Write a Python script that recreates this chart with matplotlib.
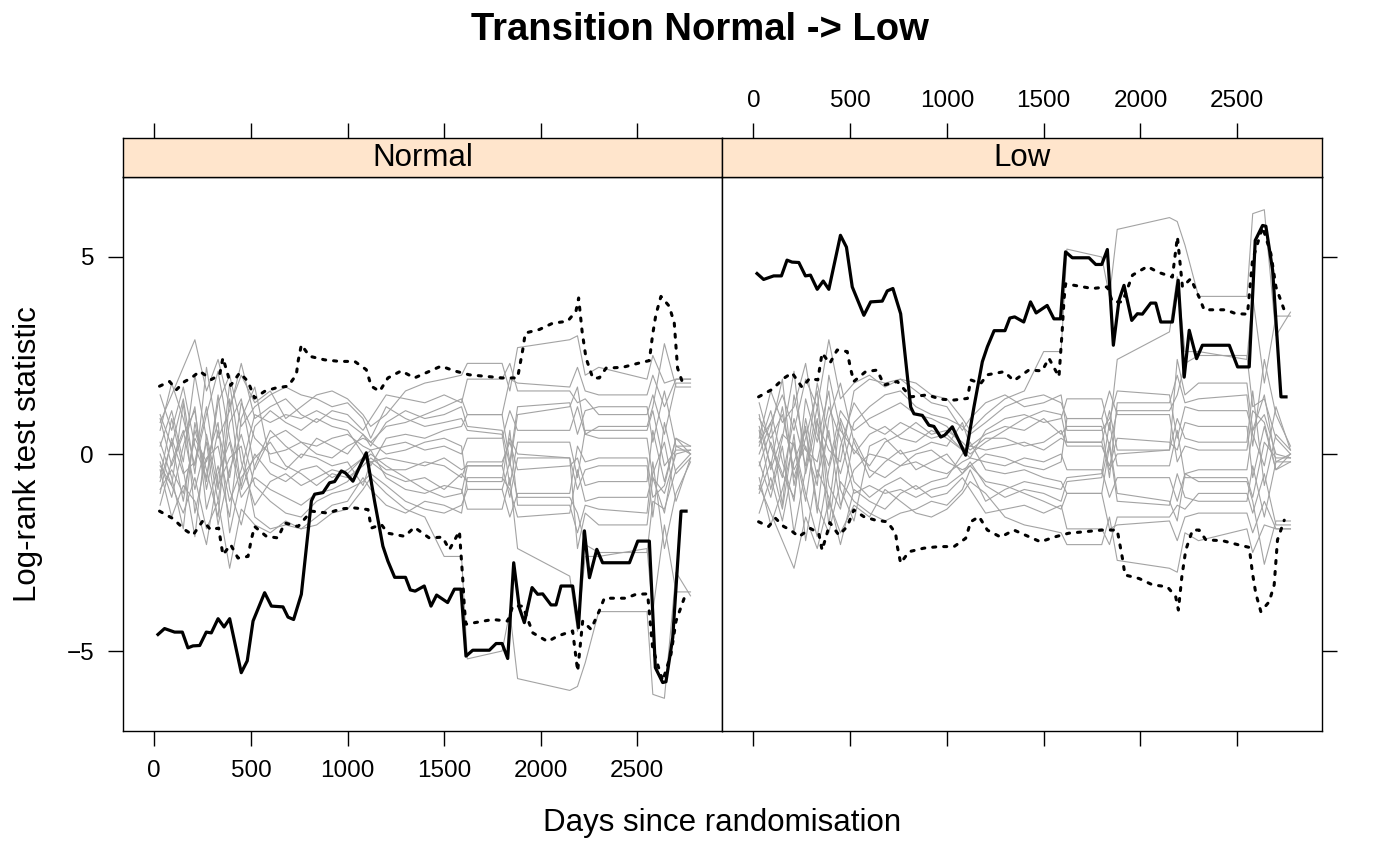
import numpy as np
import matplotlib.pyplot as plt

plt.rcParams['font.family'] = ['Liberation Sans', 'DejaVu Sans']

# Observed log-rank statistic, "Low" group (the "Normal" panel is its mirror image)
obs_days = [19, 53, 105, 145, 174, 200, 235, 269, 295, 330, 361, 390, 450, 481, 511,
            571, 606, 666, 692, 721, 761, 813, 830, 873, 907, 933, 968, 989, 1028, 1097,
            1140, 1183, 1209, 1244, 1300, 1325, 1350, 1397, 1432, 1461, 1518, 1553, 1587,
            1613, 1648, 1734, 1769, 1800, 1829, 1860, 1889, 1915, 1955, 1984, 2010, 2053,
            2079, 2105, 2165, 2195, 2226, 2252, 2290, 2320, 2459, 2502, 2562, 2593, 2631,
            2648, 2683, 2726, 2752]
obs_low = [4.58, 4.43, 4.52, 4.52, 4.92, 4.87, 4.86, 4.52, 4.54, 4.18, 4.39, 4.18, 5.55, 5.25, 4.24,
           3.52, 3.86, 3.88, 4.14, 4.20, 3.56, 1.19, 1.02, 0.98, 0.73, 0.70, 0.43, 0.48, 0.69, -0.03,
           1.20, 2.34, 2.72, 3.13, 3.13, 3.45, 3.48, 3.35, 3.86, 3.58, 3.77, 3.43, 3.43,
           5.13, 4.98, 4.98, 4.81, 4.81, 5.19, 2.76, 3.90, 4.28, 3.39, 3.56, 3.55, 3.83,
           3.83, 3.35, 3.35, 4.41, 1.95, 3.14, 2.42, 2.76, 2.76, 2.21, 2.21, 5.42, 5.80,
           5.78, 4.66, 1.45, 1.45]

# Upper / lower pointwise limits (dotted), "Low" group
up_days = [27, 97, 157, 200, 252, 291, 333, 355, 395, 433, 485, 502, 519, 580, 640, 675, 744,
           813, 899, 968, 1037, 1106, 1123, 1175, 1209, 1296, 1346, 1423, 1492, 1527, 1579, 1596,
           1605, 1613, 1751, 1829, 1855, 1907, 1959, 2036, 2088, 2165, 2191, 2217, 2260, 2303,
           2329, 2441, 2493, 2553, 2579, 2631, 2674, 2700, 2743]
up_low = [1.45, 1.64, 1.92, 2.06, 1.69, 1.92, 1.88, 2.56, 2.30, 2.64, 2.60, 2.17, 1.84, 2.09, 2.13, 1.75, 1.84,
          1.45, 1.50, 1.39, 1.37, 1.41, 1.88, 1.79, 2.01, 2.09, 1.86, 2.13, 2.11, 2.43, 1.96, 3.15,
          3.91, 4.32, 4.20, 4.24, 3.86, 3.86, 4.54, 4.76, 4.62, 4.49, 5.51, 4.24, 4.45, 3.98,
          3.66, 3.66, 3.56, 3.55, 4.92, 5.76, 5.08, 4.24, 3.65]

lo_days = [27, 79, 114, 157, 192, 235, 295, 338, 355, 381, 395, 442, 485, 519, 571, 631, 692, 735,
           744, 761, 804, 881, 959, 1037, 1097, 1123, 1166, 1209, 1278, 1346, 1406, 1484, 1553,
           1630, 1717, 1803, 1880, 1907, 1920, 1993, 2062, 2139, 2182, 2196, 2214, 2234, 2269,
           2303, 2338, 2424, 2510, 2562, 2579, 2596, 2622, 2665, 2691, 2708, 2743]
lo_low = [-1.72, -1.84, -1.63, -1.84, -1.93, -2.10, -1.89, -2.01, -2.44, -2.01, -1.74, -2.06, -1.84, -1.42,
          -1.59, -1.68, -1.72, -2.01, -2.35, -2.77, -2.48, -2.39, -2.35, -2.35, -2.14, -1.72, -1.59,
          -1.93, -2.11, -1.93, -2.06, -2.23, -2.11, -2.01, -1.97, -1.93, -1.93, -2.65, -3.07, -3.16,
          -3.32, -3.37, -3.62, -3.96, -3.11, -2.44, -1.93, -1.93, -2.18, -2.20, -2.31, -2.37, -3.03,
          -3.54, -4.00, -3.75, -3.32, -2.18, -1.68]

# Permuted paths (grey), "Low" group
perm_days = [30, 90, 150, 210, 270, 330, 390, 450, 520, 600, 680, 760, 840, 920, 1000, 1080,
             1120, 1200, 1300, 1400, 1500, 1590, 1620, 1800, 1840, 1880, 2150, 2190, 2230,
             2300, 2550, 2580, 2640, 2700, 2775]
perm_low = [
    [0.3, 0.8, 1.5, 0.6, 1.9, 1.2, 2.9, 1.4, 1.8, 2.0, 1.7, 1.9, 1.8, 1.5, 1.4, 0.9, 0.6, 1.0, 1.4, 1.6,
     2.6, 2.6, 5.2, 5.0, 4.0, 5.7, 6.0, 5.9, 5.3, 4.0, 4.0, 6.1, 6.2, 3.0, 3.6],
    [-0.8, -1.5, -2.2, -2.9, -1.6, -2.4, -1.2, -2.0, -1.3, -1.6, -0.9, -1.2, -1.5, -1.6, -1.4, -1.0, -0.7,
     -1.0, -1.6, -1.8, -1.9, -2.0, -2.3, -2.3, -1.6, -2.7, -2.9, -3.0, -2.0, -2.2, -1.9, -2.5, -1.8, -1.9, -1.9],
    [1.3, 0.2, -0.6, 0.9, -0.3, 1.8, 0.4, -0.5, 0.8, 1.2, 1.5, 1.6, 1.2, 1.0, 0.9, 0.7, 0.5, 0.8, 1.2, 1.4,
     1.5, 1.3, 0.9, 0.9, 0.2, 1.1, 1.1, 1.5, 2.3, 2.5, 2.5, 1.2, 1.4, 0.4, 0.0],
    [-0.3, 0.6, 1.9, -0.8, 0.7, -1.5, 0.9, 1.8, 0.3, -0.6, -0.2, 0.1, -0.4, -0.2, 0.0, -0.5, -0.2, -0.8,
     -1.1, -0.9, -1.0, -1.2, -0.7, -0.6, 0.3, -1.0, -1.2, -1.7, -0.5, -0.4, -0.4, 0.6, 1.0, 0.0, -0.1],
    [0.6, -0.9, 0.4, 2.1, -0.5, 0.9, -1.8, 0.2, 1.3, 0.7, 0.5, 0.8, 0.6, 0.4, 0.5, 0.1, 0.2, 0.5, 0.7, 0.6,
     0.9, 0.5, 0.7, 0.7, -0.6, 1.3, 1.3, 2.0, 1.3, 1.4, 1.5, 0.2, 2.4, 1.0, 0.2],
    [-1.0, -0.2, -1.4, 0.5, -2.2, -0.4, -1.1, -2.3, -0.9, -1.2, -1.4, -1.0, -0.8, -1.1, -1.0, -0.6, -0.9,
     -1.5, -1.4, -1.3, -1.5, -1.3, -1.9, -1.9, -2.3, -1.6, -1.6, -1.3, -1.4, -1.0, -1.0, -1.5, -0.5, -1.8, -1.8],
    [0.2, 1.1, -0.2, -1.2, 1.4, 0.3, 1.6, -0.9, -1.7, 0.2, 0.4, 0.0, 0.1, 0.3, 0.2, 0.8, 0.2, 0.1, 0.2, 0.3,
     0.1, 0.4, 0.3, 0.3, 1.1, 0.1, 0.1, 0.9, 0.4, 0.3, 0.3, 1.6, -0.8, 0.5, 0.1],
    [-0.6, -1.8, -0.9, 0.3, -1.0, -2.1, -0.4, 0.8, -0.7, -1.1, -0.8, -0.6, -0.9, -0.7, -0.6, 0.0, 0.3, -0.4,
     -0.5, -0.4, -0.6, -0.7, -1.0, -1.0, 0.2, -1.2, -1.3, -0.5, -1.1, -1.2, -1.2, -0.3, -1.6, -0.2, -0.2],
    [0.9, 0.4, 1.0, -0.4, 0.2, -0.8, 2.0, 0.6, 0.1, -0.3, 0.3, 0.5, 0.8, 0.5, 0.6, 0.3, 0.1, 0.4, 0.4, 0.2,
     0.3, 0.6, 0.2, 0.2, -0.3, 0.4, 0.3, 0.1, 0.8, 0.7, 0.7, -0.6, 0.7, -0.4, 0.0],
    [-1.5, -0.6, -1.7, -0.2, 0.6, -1.3, -2.0, -0.7, -1.2, -1.5, -1.7, -1.5, -1.4, -1.2, -1.3, -0.9, -0.4,
     -1.2, -0.9, -0.7, -0.8, -0.9, -0.6, -0.5, 0.8, -0.3, -0.3, 0.6, -0.6, -0.6, -0.6, -1.1, 0.3, -0.1, -0.1],
    [0.4, 1.6, 0.8, 1.2, 2.3, 0.5, -0.3, 1.1, 0.6, 0.9, 1.1, 1.3, 1.0, 0.9, 0.7, 0.2, 0.0, 0.3, 0.6, 0.9,
     1.1, 1.0, 0.3, 0.3, -0.4, 0.0, 0.1, 2.4, 1.5, 1.8, 1.8, 0.6, 1.5, -0.2, 0.0],
    [-0.2, -1.1, 0.2, -2.0, -0.4, 1.2, -0.8, -1.4, 0.4, -0.4, -0.6, -0.3, -0.2, -0.4, -0.5, -0.2, -0.1, -0.2,
     -0.3, -0.1, -0.2, 0.0, -0.4, -0.4, -1.1, -0.6, -0.6, -1.2, -0.5, -0.7, -0.7, -1.2, -2.8, -1.7, -1.7],
    [1.0, -0.4, 0.5, 0.2, -1.2, 0.8, 0.1, -0.2, 1.6, 1.9, 1.8, 1.9, 1.6, 1.3, 1.2, 0.6, 0.9, 1.3, 1.5, 1.2,
     1.3, 1.5, 0.6, 0.6, 0.9, 1.6, 1.5, 0.4, 1.2, 1.1, 1.1, 0.5, -0.3, 1.2, 0.1],
    [-0.9, 0.3, -0.5, -1.1, 0.9, -0.6, 0.6, -1.3, -0.4, 0.0, -0.1, -0.3, 0.0, 0.1, -0.2, -0.4, -0.3, 0.0,
     -0.1, -0.3, -0.4, -0.2, 0.9, 0.9, 1.6, 1.0, 1.0, -0.2, 0.2, 0.1, 0.1, 1.1, 0.8, -0.4, -0.2],
    [0.0, 0.8, -1.3, 1.5, 0.1, -0.2, 1.2, 0.4, -1.0, -0.8, -1.0, -0.9, -1.1, -0.9, -0.8, -0.5, -0.3, -0.7,
     -0.8, -1.0, -1.2, -1.4, -1.0, -1.0, -1.9, -1.8, -1.7, -2.2, -1.6, -1.5, -1.5, -2.0, -1.2, -1.9, -1.9],
    [0.7, -0.3, 1.2, -0.6, 0.4, 1.6, -1.4, 0.9, 0.0, 0.5, 0.7, 0.4, 0.3, 0.6, 0.4, 0.1, -0.1, 0.6, 0.9, 1.0,
     0.8, 0.9, 1.4, 1.4, 0.6, 2.4, 3.1, 4.5, 2.6, 2.6, 2.4, 4.0, 1.8, 3.5, 3.5],
]

panels = ['Normal', 'Low']
signs = [-1, 1]  # log-rank statistic of one group is minus the other's
x_ticks = [0, 500, 1000, 1500, 2000, 2500]
y_ticks = [-5, 0, 5]

W, H = 1400, 866


def box(x0, y0, x1, y1):
    return [x0 / W, 1 - y1 / H, (x1 - x0) / W, (y1 - y0) / H]


fig = plt.figure(figsize=(14, 8.66), dpi=100)

panel_px = [(123, 722), (722, 1322)]
for i, (name, s) in enumerate(zip(panels, signs)):
    x0, x1 = panel_px[i]
    ax = fig.add_axes(box(x0, 177, x1, 731))
    st = fig.add_axes(box(x0, 138, x1, 177))

    for vals in perm_low:
        ax.plot(perm_days, s * np.array(vals), color='#a3a3a3', lw=0.8)
    ax.plot(up_days, s * np.array(up_low), color='black', lw=2.2,
            linestyle=(0, (1, 2.6)), dash_capstyle='round')
    ax.plot(lo_days, s * np.array(lo_low), color='black', lw=2.2,
            linestyle=(0, (1, 2.6)), dash_capstyle='round')
    ax.plot(obs_days, s * np.array(obs_low), color='black', lw=2.3)

    ax.set_xlim(-162, 2938)
    ax.set_ylim(-7.03, 7.03)
    ax.set_xticks(x_ticks)
    ax.set_yticks(y_ticks)
    ax.tick_params(direction='out', length=10.8, width=1, labelsize=17.5, pad=10)
    for sp in ax.spines.values():
        sp.set_linewidth(1.0)

    st.set_facecolor('#ffe5cc')
    st.set_xlim(-162, 2938)
    st.set_xticks(x_ticks)
    st.set_yticks([])
    st.tick_params(direction='out', length=10.8, width=1, labelsize=17.5, pad=8,
                   bottom=False, labelbottom=False, top=True, labeltop=(i == 1))
    for sp in st.spines.values():
        sp.set_linewidth(1.0)
    st.text(0.5, 0.5, name, transform=st.transAxes, ha='center', va='center',
            fontsize=22.5)

    if i == 0:
        ax.tick_params(left=True, labelleft=True, right=False,
                       bottom=True, labelbottom=True, top=False)
    else:
        ax.tick_params(left=False, labelleft=False, right=True, labelright=False,
                       bottom=True, labelbottom=False, top=False)

fig.text(700 / W, 1 - 30 / H, 'Transition Normal -> Low', ha='center', va='center',
         fontsize=27.5, fontweight='bold')
fig.text(722 / W, 1 - 823 / H, 'Days since randomisation', ha='center', va='center',
         fontsize=22.5)
fig.text(28 / W, 1 - 454 / H, 'Log-rank test statistic', ha='center', va='center',
         rotation=90, fontsize=22.5)

plt.savefig('out.png', dpi=100)
